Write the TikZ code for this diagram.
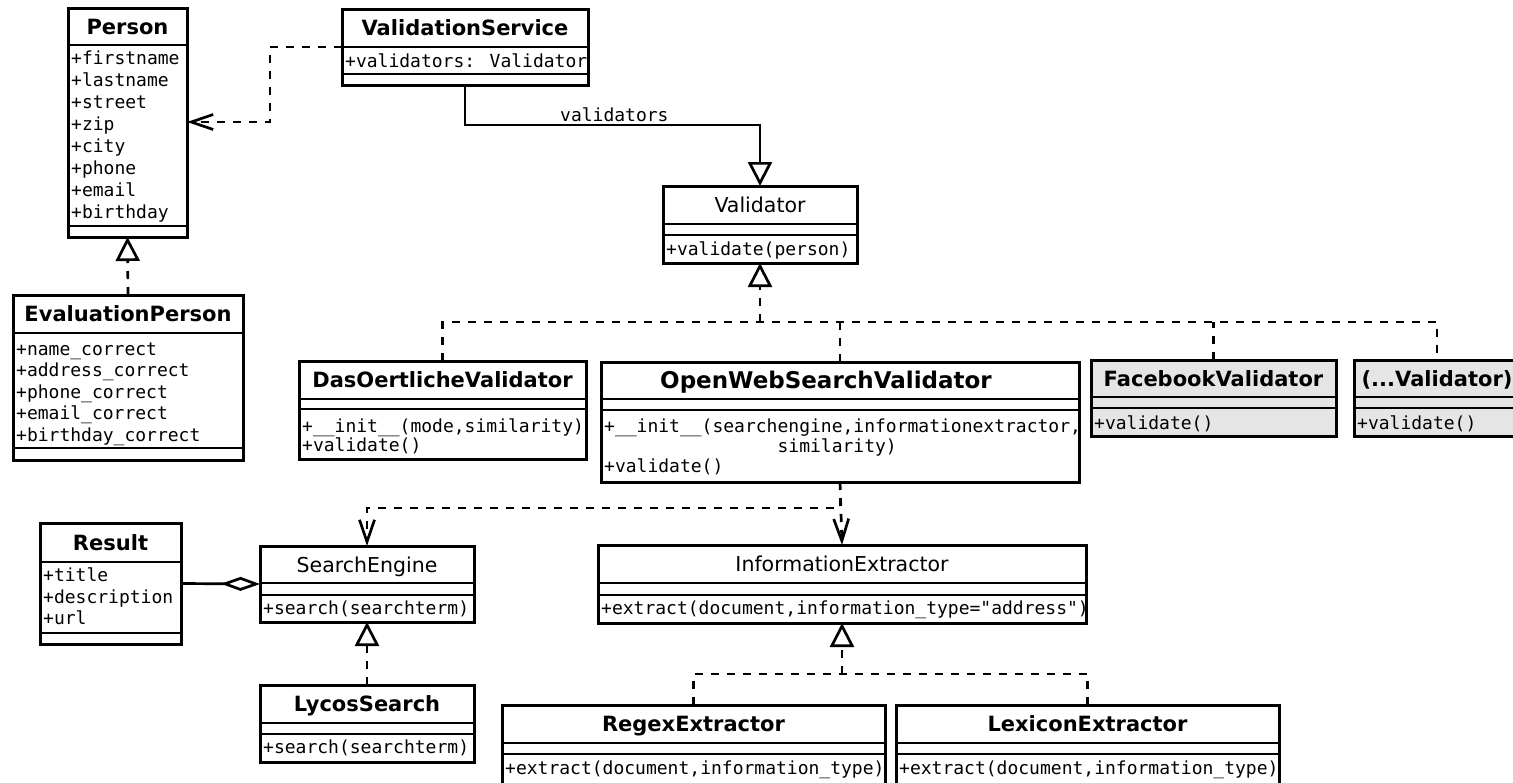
\documentclass[tikz,border=0pt]{standalone}
\usepackage{fontspec}
\setmainfont{DejaVu Sans}
\newfontfamily\monof{DejaVu Sans Mono}
\usetikzlibrary{arrows.meta,calc}
\tikzset{
  box/.style={draw, line width=3pt, inner sep=0pt, outer sep=0pt, anchor=north west, fill=white},
  divl/.style={line width=2.7pt},
  ttlb/.style={font=\fontsize{21}{25}\selectfont\bfseries, inner sep=0pt, text height=15pt, text depth=0pt},
  ttlr/.style={font=\fontsize{20.5}{25}\selectfont, inner sep=0pt, text height=15pt, text depth=0pt},
  mono/.style={font=\monof\fontsize{18}{22}\selectfont, anchor=west, inner sep=0pt, text height=13.1pt, text depth=0pt},
  conn/.style={line width=2.7pt},
  dsh/.style={conn, dash pattern=on 8pt off 8pt},
  depend/.style={dsh, -{Straight Barb[length=22pt,width=15pt]}},
  realize/.style={dsh, -{Triangle[open, length=24pt, width=24pt, fill=white]}},
  inherit/.style={conn, -{Triangle[open, length=24pt, width=24pt, fill=white]}},
  aggreg/.style={conn, -{Diamond[open, length=39pt, width=14pt, fill=white]}},
}
% name, x1, y1, x2, y2, divider1, divider2, fill
\newcommand{\umlbox}[8]{%
  \node[box, fill=#8, minimum width={(#4)-(#2)}, minimum height={(#5)-(#3)}] (#1) at (#2,-#3) {};
  \draw[divl] (#1.west |- 0,-#6) -- (#1.east |- 0,-#6);
  \draw[divl] (#1.west |- 0,-#7) -- (#1.east |- 0,-#7);}
\newcommand{\mline}[4]{\node[mono] (#1) at (#2,-#3) {#4};}
\begin{document}
\begin{tikzpicture}[x=1pt,y=1pt]
\useasboundingbox (0,0) rectangle (1513,-782);
\fill[white] (0,0) rectangle (1513,-782);
\clip (0,0) rectangle (1513,-782);

% ---------- classes ----------
\umlbox{person}{68}{8}{187}{237}{45}{226}{white}
\node[ttlb] (person-t) at (127.5,-26.5) {Person};
\mline{person-a1}{71}{58}{+firstname}
\mline{person-a2}{71}{80}{+lastname}
\mline{person-a3}{71}{102}{+street}
\mline{person-a4}{71}{124}{+zip}
\mline{person-a5}{71}{146}{+city}
\mline{person-a6}{71}{168}{+phone}
\mline{person-a7}{71}{190}{+email}
\mline{person-a8}{71}{212}{+birthday}

\umlbox{vs}{342}{9}{588}{85}{47}{74}{white}
\node[ttlb] (vs-t) at (465,-28) {ValidationService};
\mline{vs-a1}{345}{61}{+validators: Validator}

\umlbox{validator}{663}{186}{857}{263}{224}{235}{white}
\node[ttlr] (validator-t) at (760,-205) {Validator};
\mline{validator-o1}{666}{249}{+validate(person)}

\umlbox{ep}{13}{295}{243}{460}{333}{448}{white}
\node[ttlb] (ep-t) at (128,-314) {EvaluationPerson};
\mline{ep-a1}{16}{348.5}{+name\_correct}
\mline{ep-a2}{16}{370}{+address\_correct}
\mline{ep-a3}{16}{391.5}{+phone\_correct}
\mline{ep-a4}{16}{413}{+email\_correct}
\mline{ep-a5}{16}{434.5}{+birthday\_correct}

\umlbox{das}{299}{361}{586}{459}{399}{409}{white}
\node[ttlb] (das-t) at (442.5,-380) {DasOertlicheValidator};
\mline{das-o1}{302}{426}{+\_\_init\_\_(mode,similarity)}
\mline{das-o2}{302}{445}{+validate()}

\umlbox{ows}{601}{362}{1079}{482}{399}{410}{white}
\node[ttlb, font=\fontsize{23}{27}\selectfont\bfseries] (ows-t) at (826,-380.5) {OpenWebSearchValidator};
\mline{ows-o1}{604}{426}{+\_\_init\_\_(searchengine,informationextractor,}
\mline{ows-o2}{777.4}{446}{similarity)}
\mline{ows-o3}{604}{466}{+validate()}

\umlbox{fb}{1091}{360}{1336}{436}{397}{408}{gray!20}
\node[ttlb] (fb-t) at (1213.5,-378.5) {FacebookValidator};
\mline{fb-o1}{1094}{422.7}{+validate()}

\umlbox{ell}{1354}{360}{1520}{436}{397}{408}{gray!20}
\node[ttlb] (ell-t) at (1437,-378.5) {(...Validator)};
\mline{ell-o1}{1357}{422.7}{+validate()}

\umlbox{result}{40}{523}{181}{644}{562}{633}{white}
\node[ttlb] (result-t) at (110.5,-542.5) {Result};
\mline{result-a1}{43}{575}{+title}
\mline{result-a2}{43}{597}{+description}
\mline{result-a3}{43}{618}{+url}

\umlbox{se}{260}{546}{474}{622}{583}{595}{white}
\node[ttlr] (se-t) at (367,-564.5) {SearchEngine};
\mline{se-o1}{263}{608}{+search(searchterm)}

\umlbox{lycos}{260}{685}{474}{762}{723}{734}{white}
\node[ttlb] (lycos-t) at (367,-704) {LycosSearch};
\mline{lycos-o1}{263}{747}{+search(searchterm)}

\umlbox{ie}{598}{545}{1086}{623}{583}{595}{white}
\node[ttlr] (ie-t) at (842,-564) {InformationExtractor};
\mline{ie-o1}{601}{608}{+extract(document,information\_type="address")}

\umlbox{regex}{502}{705}{885}{790}{743}{754}{white}
\node[ttlb] (regex-t) at (693.5,-724) {RegexExtractor};
\mline{regex-o1}{505}{768}{+extract(document,information\_type)}

\umlbox{lex}{896}{705}{1279}{790}{743}{754}{white}
\node[ttlb] (lex-t) at (1087.5,-724) {LexiconExtractor};
\mline{lex-o1}{899}{768}{+extract(document,information\_type)}

% ---------- connectors ----------
\draw[depend] ([yshift=-38pt]vs.north west) -- ++(-72,0) |- ([yshift=-114pt]person.north east);

\draw[inherit] (vs.south) -- ++(0,-40) -| (validator.north);
\node[mono] (vlabel) at (560,-115) {validators};

\draw[realize] (ep.north) -- (person.south);

\coordinate (vbus) at (validator.south |- 0,-322);
\draw[realize] (vbus) -- (validator.south);
\draw[dsh] (das.north) |- (ell.north |- vbus) -- (ell.north);
\draw[dsh] (ows.north) -- (ows.north |- vbus);
\draw[dsh] (fb.north) -- (fb.north |- vbus);

\coordinate (obus) at (ows.south |- 0,-508);
\draw[depend] (ows.south) -- (obus) -| (se.north);
\draw[depend] (ows.south) -- (ie.north);

\draw[aggreg] (result.east) -- (se.west);
\draw[realize] (lycos.north) -- (se.south);

\coordinate (ebus) at (ie.south |- 0,-674);
\draw[realize] (ebus) -- (ie.south);
\draw[dsh] (regex.north) |- (lex.north |- ebus) -- (lex.north);
\end{tikzpicture}
\end{document}
